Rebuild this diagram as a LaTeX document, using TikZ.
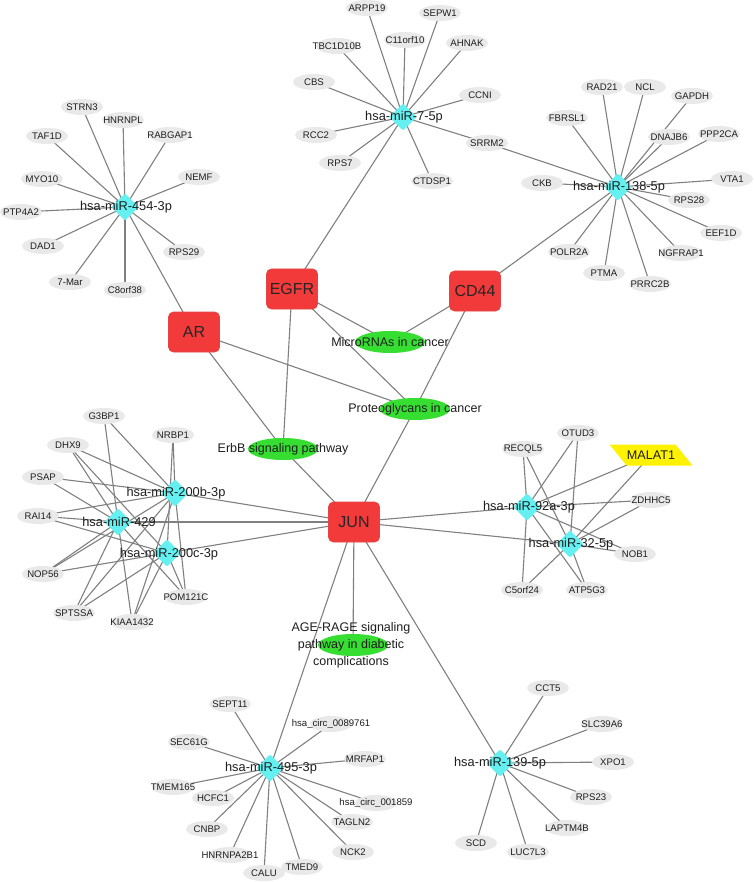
\documentclass[tikz,border=0pt]{standalone}
\usepackage{fontspec}
\setmainfont{Liberation Sans}
\usetikzlibrary{shapes.geometric,shapes.misc}
\pgfdeclarelayer{background}
\pgfdeclarelayer{canvas}
\pgfsetlayers{canvas,background,main}
\definecolor{leafgray}{RGB}{233,233,233}
\definecolor{edgegray}{RGB}{128,128,128}
\definecolor{hubcyan}{RGB}{100,240,240}
\definecolor{genered}{RGB}{242,58,58}
\definecolor{generedline}{RGB}{225,70,70}
\definecolor{pathgreen}{RGB}{55,222,50}
\definecolor{malyellow}{RGB}{255,242,0}
\definecolor{txt}{RGB}{30,30,30}
\tikzset{
  leaf/.style={ellipse, fill=leafgray, draw=none,
    minimum width=42pt, minimum height=16pt, inner sep=0pt},
  leaftext/.style={font=\fontsize{9.6}{11}\selectfont, text=txt, inner sep=0pt},
  hub/.style={diamond, fill=hubcyan, draw=hubcyan, rounded corners=2pt,
    minimum width=27pt, minimum height=27pt, inner sep=0pt},
  hubtext/.style={font=\fontsize{12.8}{15}\selectfont, text=txt, inner sep=0pt},
  gene/.style={rectangle, rounded corners=5pt, fill=genered, draw=generedline, line width=0.8pt,
    minimum width=51pt, minimum height=40pt, inner sep=0pt, font=\fontsize{16}{18}\selectfont, text=black!85},
  path/.style={ellipse, fill=pathgreen, draw=none, minimum width=70pt, minimum height=22pt, inner sep=0pt},
  pathtext/.style={font=\fontsize{12.5}{17}\selectfont, text=txt, inner sep=0pt, align=center},
  edge/.style={draw=edgegray, line width=1.1pt}
}
\newcommand\lf[4]{\node[leaf, label={[leaftext]center:#4}] (#1) at (#2,#3) {};}
\begin{document}
\begin{tikzpicture}[x=1pt,y=-1pt]
\useasboundingbox (0,0) rectangle (753,882);
\begin{pgfonlayer}{canvas}
\fill[white] (0,0) rectangle (753,882);
\end{pgfonlayer}
% ---- miR-454-3p leaves
\lf{STRN3}{82}{107}{STRN3}
\lf{HNRNPL}{123}{120}{HNRNPL}
\lf{RABGAP1}{170}{135}{RABGAP1}
\lf{TAF1D}{47}{136}{TAF1D}
\lf{NEMF}{199}{177}{NEMF}
\lf{MYO10}{42}{179}{MYO10}
\lf{PTP4A2}{21}{212}{PTP4A2}
\lf{DAD1}{43}{246}{DAD1}
\lf{RPS29}{184}{252}{RPS29}
\lf{M7Mar}{70}{282}{7-Mar}
\lf{C8orf38}{125}{290}{C8orf38}
% ---- miR-7-5p leaves
\lf{ARPP19}{367}{8}{ARPP19}
\lf{SEPW1}{440}{13}{SEPW1}
\lf{TBC1D10B}{337}{46}{TBC1D10B}
\lf{C11orf10}{405}{40}{C11orf10}
\lf{AHNAK}{467}{43}{AHNAK}
\lf{CBS}{314}{82}{CBS}
\lf{CCNI}{480}{95}{CCNI}
\lf{RCC2}{316}{135}{RCC2}
\lf{SRRM2}{487}{143}{SRRM2}
\lf{RPS7}{340}{163}{RPS7}
\lf{CTDSP1}{432}{181}{CTDSP1}
% ---- miR-138-5p leaves
\lf{RAD21}{602}{87}{RAD21}
\lf{NCL}{645}{87}{NCL}
\lf{GAPDH}{692}{96}{GAPDH}
\lf{FBRSL1}{567}{118}{FBRSL1}
\lf{DNAJB6}{669}{137}{DNAJB6}
\lf{PPP2CA}{719}{134}{PPP2CA}
\lf{CKB}{542}{183}{CKB}
\lf{VTA1}{732}{179}{VTA1}
\lf{RPS28}{689}{200}{RPS28}
\lf{EEF1D}{721}{233}{EEF1D}
\lf{POLR2A}{569}{252}{POLR2A}
\lf{NGFRAP1}{681}{253}{NGFRAP1}
\lf{PTMA}{604}{273}{PTMA}
\lf{PRRC2B}{650}{284}{PRRC2B}
% ---- miR-200 cluster leaves
\lf{G3BP1}{104}{416}{G3BP1}
\lf{NRBP1}{173}{435}{NRBP1}
\lf{DHX9}{68}{445}{DHX9}
\lf{PSAP}{43}{477}{PSAP}
\lf{RAI14}{38}{516}{RAI14}
\lf{NOP56}{43}{574}{NOP56}
\lf{POM121C}{186}{597}{POM121C}
\lf{SPTSSA}{74}{613}{SPTSSA}
\lf{KIAA1432}{132}{622}{KIAA1432}
% ---- miR-92a / miR-32 leaves
\lf{RECQL5}{523}{449}{RECQL5}
\lf{OTUD3}{578}{433}{OTUD3}
\lf{ZDHHC5}{651}{500}{ZDHHC5}
\lf{NOB1}{635}{554}{NOB1}
\lf{C5orf24}{522}{590}{C5orf24}
\lf{ATP5G3}{587}{590}{ATP5G3}
% ---- miR-495-3p leaves
\lf{SEPT11}{230}{704}{SEPT11}
\lf{circA}{331}{724}{hsa\_circ\_0089761}
\lf{SEC61G}{189}{742}{SEC61G}
\lf{MRFAP1}{365}{759}{MRFAP1}
\lf{TMEM165}{173}{787}{TMEM165}
\lf{HCFC1}{213}{798}{HCFC1}
\lf{circB}{376}{803}{hsa\_circ\_001859}
\lf{TAGLN2}{352}{822}{TAGLN2}
\lf{CNBP}{207}{829}{CNBP}
\lf{NCK2}{353}{852}{NCK2}
\lf{HNRNPA2B1}{230}{855}{HNRNPA2B1}
\lf{TMED9}{302}{867}{TMED9}
\lf{CALU}{264}{873}{CALU}
% ---- miR-139-5p leaves
\lf{CCT5}{548}{688}{CCT5}
\lf{SLC39A6}{602}{724}{SLC39A6}
\lf{XPO1}{613}{762}{XPO1}
\lf{RPS23}{591}{797}{RPS23}
\lf{LAPTM4B}{567}{828}{LAPTM4B}
\lf{SCD}{476}{843}{SCD}
\lf{LUC7L3}{528}{852}{LUC7L3}
% ---- MALAT1
\node[inner sep=0pt, minimum width=66pt, minimum height=21pt] (MALAT1) at (651,455) {};
\fill[malyellow] ([shift={(-41.5,-10.5)}]MALAT1.center) -- ++(66,0) -- ++(17,21) -- ++(-66,0) -- cycle;
\node[font=\fontsize{12.6}{15}\selectfont, text=txt, inner sep=0pt] (MALAT1t) at (MALAT1.center) {MALAT1};
% ---- genes
\node[gene] (AR) at (194,332) {AR};
\node[gene] (EGFR) at (292,289) {EGFR};
\node[gene] (CD44) at (475,291) {CD44};
\node[gene] (JUN) at (354,522) {JUN};
% ---- pathways
\node[path, label={[pathtext]center:MicroRNAs in cancer}] (MIC) at (390,342) {};
\node[path, label={[pathtext]center:Proteoglycans in cancer}] (PRO) at (415,409) {};
\node[path, label={[pathtext]center:ErbB signaling pathway}] (ERBB) at (283,449) {};
\node[path] (AGE) at (353,645) {};
\node[pathtext] (AGEt) at (351,645) {AGE-RAGE signaling\\pathway in diabetic\\complications};
% ---- hubs
\node[hub] (H454) at (125,207) {};
\node[hub] (H7) at (403,117) {};
\node[hub] (H138) at (618,187) {};
\node[hub] (H200b) at (175,493) {};
\node[hub] (H429) at (118,522) {};
\node[hub] (H200c) at (167,553) {};
\node[hub] (H92a) at (527,507) {};
\node[hub] (H32) at (570,544) {};
\node[hub] (H495) at (270,768) {};
\node[hub] (H139) at (500,763) {};
\node[hubtext] at (126,207) {hsa-miR-454-3p};
\node[hubtext] at (404,117) {hsa-miR-7-5p};
\node[hubtext] at (619,187) {hsa-miR-138-5p};
\node[hubtext] at (176,493) {hsa-miR-200b-3p};
\node[hubtext] at (119,522) {hsa-miR-429};
\node[hubtext] at (169,554) {hsa-miR-200c-3p};
\node[hubtext] at (529,507) {hsa-miR-92a-3p};
\node[hubtext] at (571,544) {hsa-miR-32-5p};
\node[hubtext] at (271,768) {hsa-miR-495-3p};
\node[hubtext] at (500,763) {hsa-miR-139-5p};
% ---- edges
\begin{pgfonlayer}{background}
\foreach \b in {STRN3,HNRNPL,RABGAP1,TAF1D,NEMF,MYO10,PTP4A2,DAD1,RPS29,M7Mar,C8orf38,AR}
  \draw[edge] (H454.center) -- (\b.center);
\foreach \b in {ARPP19,SEPW1,TBC1D10B,C11orf10,AHNAK,CBS,CCNI,RCC2,SRRM2,RPS7,CTDSP1,EGFR}
  \draw[edge] (H7.center) -- (\b.center);
\foreach \b in {RAD21,NCL,GAPDH,FBRSL1,DNAJB6,PPP2CA,CKB,VTA1,RPS28,EEF1D,POLR2A,NGFRAP1,PTMA,PRRC2B,SRRM2,CD44}
  \draw[edge] (H138.center) -- (\b.center);
\foreach \b in {G3BP1,NRBP1,DHX9,PSAP,RAI14,NOP56,SPTSSA,KIAA1432,POM121C,JUN}
  \draw[edge] (H200b.center) -- (\b.center);
\foreach \b in {G3BP1,DHX9,PSAP,RAI14,NOP56,SPTSSA,KIAA1432,POM121C,JUN}
  \draw[edge] (H429.center) -- (\b.center);
\foreach \b in {NRBP1,DHX9,RAI14,NOP56,SPTSSA,KIAA1432,POM121C,JUN}
  \draw[edge] (H200c.center) -- (\b.center);
\foreach \b in {RECQL5,OTUD3,MALAT1,ZDHHC5,NOB1,C5orf24,ATP5G3,JUN}
  \draw[edge] (H92a.center) -- (\b.center);
\foreach \b in {RECQL5,OTUD3,MALAT1,ZDHHC5,NOB1,C5orf24,ATP5G3,JUN}
  \draw[edge] (H32.center) -- (\b.center);
\foreach \b in {SEPT11,circA,SEC61G,MRFAP1,TMEM165,HCFC1,circB,TAGLN2,CNBP,NCK2,HNRNPA2B1,TMED9,CALU,JUN}
  \draw[edge] (H495.center) -- (\b.center);
\foreach \b in {CCT5,SLC39A6,XPO1,RPS23,LAPTM4B,SCD,LUC7L3,JUN}
  \draw[edge] (H139.center) -- (\b.center);
\foreach \a/\b in {AR/ERBB,AR/PRO,EGFR/ERBB,EGFR/MIC,EGFR/PRO,CD44/MIC,CD44/PRO,PRO/JUN,ERBB/JUN,JUN/AGE}
  \draw[edge] (\a.center) -- (\b.center);
\end{pgfonlayer}
\end{tikzpicture}
\end{document}
